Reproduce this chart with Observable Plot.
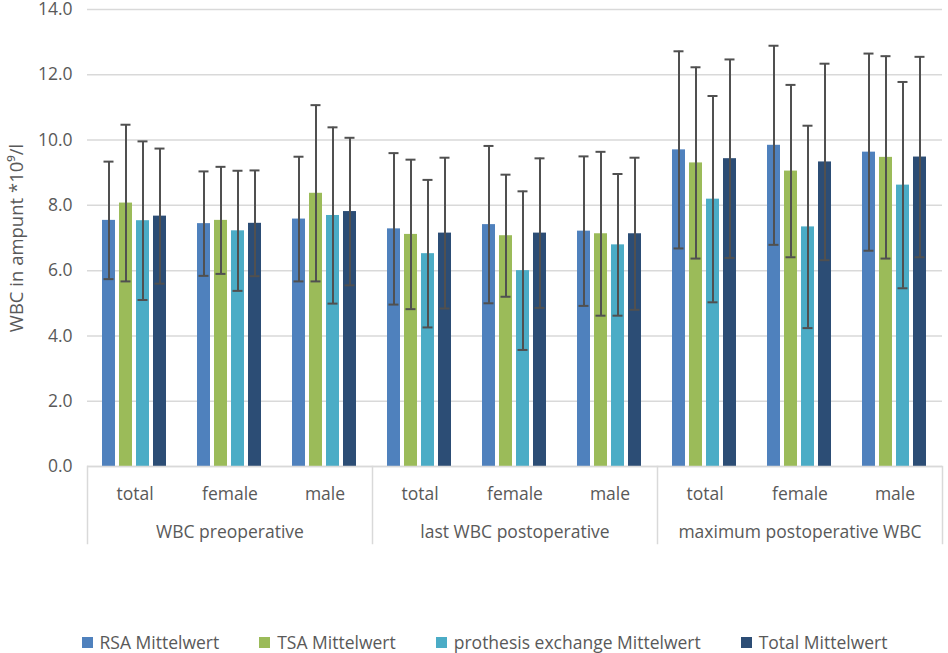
<!DOCTYPE html>
<html>
<head>
<meta charset="utf-8">
<script src="https://cdn.jsdelivr.net/npm/d3@7"></script>
<script src="https://cdn.jsdelivr.net/npm/@observablehq/plot@0.6"></script>
<style>
  body { margin: 0; background: #fff; }
  #chart { width: 948px; }
  #legend { width: 948px; box-sizing: border-box; padding-left: 21px; margin-top: 2px; }
  #legend .lg-swatches { justify-content: center; min-height: 0 !important; margin: 0 !important; }
  #legend .lg-swatch { margin-right: 40px !important; }
  #legend .lg-swatch:last-child { margin-right: 0 !important; }
  #legend .lg-swatch svg { margin-right: 7px !important; }
</style>
</head>
<body>
<div id="chart"></div>
<div id="legend"></div>
<script>
const groups = ["WBC preoperative", "last WBC postoperative", "maximum postoperative WBC"];
const subgroups = ["total", "female", "male"];
const series = ["RSA Mittelwert", "TSA Mittelwert", "prothesis exchange Mittelwert", "Total Mittelwert"];
const colors = ["#4F81BD", "#9BBB59", "#4BACC6", "#2C4D75"];
const yTicks = [0, 2, 4, 6, 8, 10, 12, 14];
const yLabel = "WBC in ampunt *10⁹/l";

// mean values per series, in order: preop total/female/male, last postop total/female/male, max postop total/female/male
const rsaMean   = [7.54, 7.44, 7.58, 7.28, 7.41, 7.21, 9.70, 9.84, 9.63];
const tsaMean   = [8.07, 7.54, 8.37, 7.11, 7.07, 7.13, 9.30, 9.05, 9.47];
const peMean    = [7.53, 7.22, 7.69, 6.52, 6.00, 6.79, 8.19, 7.34, 8.62];
const totalMean = [7.67, 7.45, 7.81, 7.15, 7.15, 7.13, 9.43, 9.33, 9.48];
// standard deviations (error bars)
const rsaSd   = [1.80, 1.60, 1.91, 2.32, 2.41, 2.29, 3.02, 3.05, 3.02];
const tsaSd   = [2.40, 1.64, 2.70, 2.29, 1.87, 2.51, 2.93, 2.64, 3.10];
const peSd    = [2.43, 1.84, 2.70, 2.26, 2.43, 2.17, 3.16, 3.10, 3.16];
const totalSd = [2.07, 1.62, 2.26, 2.31, 2.29, 2.33, 3.04, 3.01, 3.07];

const means = [rsaMean, tsaMean, peMean, totalMean];
const sds = [rsaSd, tsaSd, peSd, totalSd];

const keys = groups.flatMap(g => subgroups.map(s => g + "|" + s));
const rows = [];
groups.forEach((g, gi) => subgroups.forEach((s, si) => {
  const i = gi * 3 + si;
  series.forEach((name, k) => {
    rows.push({key: g + "|" + s, series: name, mean: means[k][i], lo: means[k][i] - sds[k][i], hi: means[k][i] + sds[k][i]});
  });
}));
const groupLabels = groups.map(g => ({key: g + "|" + subgroups[1], name: g}));

const font = "'Open Sans', sans-serif";
const fs = 17.5;
const textColor = "#595959";
const gridColor = "#d9d9d9";
const errColor = "#505050";

const chart = Plot.plot({
  width: 948,
  height: 628,
  marginTop: 9,
  marginBottom: 162,
  marginLeft: 84,
  marginRight: 3,
  style: {fontFamily: font, fontSize: fs + "px", color: textColor, background: "white", overflow: "visible"},
  fx: {domain: keys, padding: 0, label: null},
  x: {domain: series, paddingInner: 0.215, paddingOuter: 0.89, axis: null},
  y: {domain: [0, 14], label: null},
  color: {domain: series, range: colors},
  marks: [
    Plot.gridY(yTicks, {stroke: gridColor, strokeOpacity: 1, strokeWidth: 1.5}),
    Plot.axisY(yTicks, {tickFormat: d3.format(".1f"), tickSize: 0, tickPadding: 15, fontSize: fs, fill: textColor, label: null}),
    Plot.axisFx({anchor: "bottom", tickFormat: k => k.split("|")[1], tickSize: 0, tickPadding: 21, label: null, fontSize: fs, fill: textColor}),
    Plot.barY(rows, {fx: "key", x: "series", y: "mean", fill: "series"}),
    Plot.ruleX(rows, {fx: "key", x: "series", y1: "lo", y2: "hi", stroke: errColor, strokeWidth: 2}),
    Plot.tickY(rows, {fx: "key", x: "series", y: "lo", stroke: errColor, strokeWidth: 2, inset: 1.5}),
    Plot.tickY(rows, {fx: "key", x: "series", y: "hi", stroke: errColor, strokeWidth: 2, inset: 1.5}),
    Plot.ruleY([0], {stroke: gridColor, strokeWidth: 1.5}),
    Plot.text(groupLabels, {fx: "key", text: "name", frameAnchor: "bottom", dy: 71, fontSize: fs, fill: textColor}),
    Plot.text([yLabel], {fx: [keys[0]], text: d => d, frameAnchor: "left", textAnchor: "middle", rotate: -90, dx: -70, fontSize: 18.5, fill: textColor}),
    ...groups.map(g => Plot.frame({anchor: "left", fx: [g + "|" + subgroups[0]], stroke: gridColor, strokeWidth: 1.5, insetTop: 457, insetBottom: -77})),
    Plot.frame({anchor: "right", fx: [keys[keys.length - 1]], stroke: gridColor, strokeWidth: 1.5, insetTop: 457, insetBottom: -77})
  ]
});
document.getElementById("chart").appendChild(chart);

const legend = Plot.legend({
  color: {domain: series, range: colors},
  legend: "swatches",
  swatchSize: 11,
  className: "lg",
  style: {fontFamily: font, fontSize: "17.5px", color: textColor}
});
document.getElementById("legend").appendChild(legend);
</script>
</body>
</html>
